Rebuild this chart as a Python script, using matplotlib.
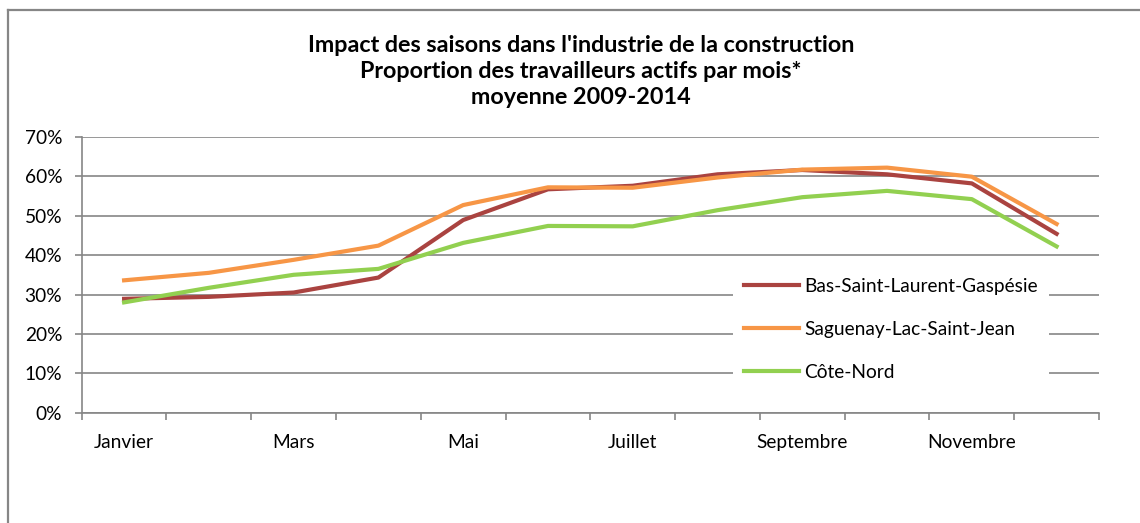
"""
Impact des saisons dans l'industrie de la construction:
share of active construction workers by month, mean 2009-2014, three regions.
"""

import matplotlib
matplotlib.use("Agg")
import matplotlib.pyplot as plt
from matplotlib.lines import Line2D
from matplotlib.ticker import PercentFormatter

MONTHS = ["Janvier", "Février", "Mars", "Avril", "Mai", "Juin", "Juillet",
          "Août", "Septembre", "Octobre", "Novembre", "Décembre"]

BSL_GASPESIE = [28.9, 29.4, 30.5, 34.3, 48.9, 56.7, 57.6, 60.5, 61.6, 60.5, 58.2, 45.4]
SAGUENAY = [33.6, 35.5, 38.8, 42.4, 52.7, 57.2, 57.1, 59.7, 61.7, 62.2, 59.9, 47.9]
COTE_NORD = [28.0, 31.7, 35.0, 36.5, 43.1, 47.4, 47.3, 51.4, 54.7, 56.3, 54.2, 42.2]

SERIES = [
    ("Bas-Saint-Laurent-Gaspésie", BSL_GASPESIE, "#AA4340"),
    ("Saguenay-Lac-Saint-Jean", SAGUENAY, "#F79646"),
    ("Côte-Nord", COTE_NORD, "#92D050"),
]

GRID = "#868686"
FONT = "Lato"
FS = 13.8

W, H = 1140, 523
fig = plt.figure(figsize=(W / 100, H / 100), dpi=100)
plt.rcParams["font.family"] = FONT

# chart-area frame (only top and left edges fall inside the image)
fig.add_artist(Line2D([8 / W, 1.0], [1 - 10 / H, 1 - 10 / H],
                      transform=fig.transFigure, color=GRID, lw=1.6))
fig.add_artist(Line2D([8 / W, 8 / W], [0.0, 1 - 10 / H],
                      transform=fig.transFigure, color=GRID, lw=1.6))

left, right, bottom, top = 81.7, 1099, 412.7, 136.9
ax = fig.add_axes([left / W, 1 - bottom / H, (right - left) / W, (bottom - top) / H])

x = [i + 0.5 for i in range(len(MONTHS))]
for name, vals, color in SERIES:
    ax.plot(x, [v / 100 for v in vals], color=color, lw=3.0, label=name,
            solid_joinstyle="round", zorder=3)

ax.set_xlim(0, len(MONTHS))
ax.set_ylim(0, 0.7)
ax.set_yticks([i / 10 for i in range(8)])
ax.yaxis.set_major_formatter(PercentFormatter(1.0, decimals=0))
ax.yaxis.grid(True, color=GRID, lw=1.2)
ax.set_axisbelow(True)

ax.set_xticks(range(len(MONTHS) + 1))
ax.set_xticklabels([])
ax.set_xticks(x[::2], minor=True)
ax.set_xticklabels(MONTHS[::2], minor=True)
ax.tick_params(axis="x", which="major", length=5, width=1.2, color=GRID)
ax.tick_params(axis="x", which="minor", length=0, pad=15, labelsize=FS)
ax.tick_params(axis="y", length=5, width=1.2, color=GRID, pad=9, labelsize=FS)

for s in ["top", "right"]:
    ax.spines[s].set_visible(False)
for s in ["left", "bottom"]:
    ax.spines[s].set_color(GRID)
    ax.spines[s].set_linewidth(1.2)

leg = ax.legend(loc="upper left", bbox_to_anchor=(0.640, 0.53), frameon=True,
                fancybox=False, framealpha=1, facecolor="white", edgecolor="none",
                fontsize=FS, handlelength=2.85, handletextpad=0.27,
                labelspacing=1.36, borderpad=0.6, borderaxespad=0)
leg.set_zorder(4)

title_lines = ["Impact des saisons dans l'industrie de la construction",
               "Proportion des travailleurs actifs par mois*",
               "moyenne 2009-2014"]
for k, line in enumerate(title_lines):
    fig.text(581 / W, 1 - (45 + 26 * k) / H, line, ha="center", va="center",
             fontsize=16.8, fontweight="bold")

fig.savefig("out.png", dpi=100)
